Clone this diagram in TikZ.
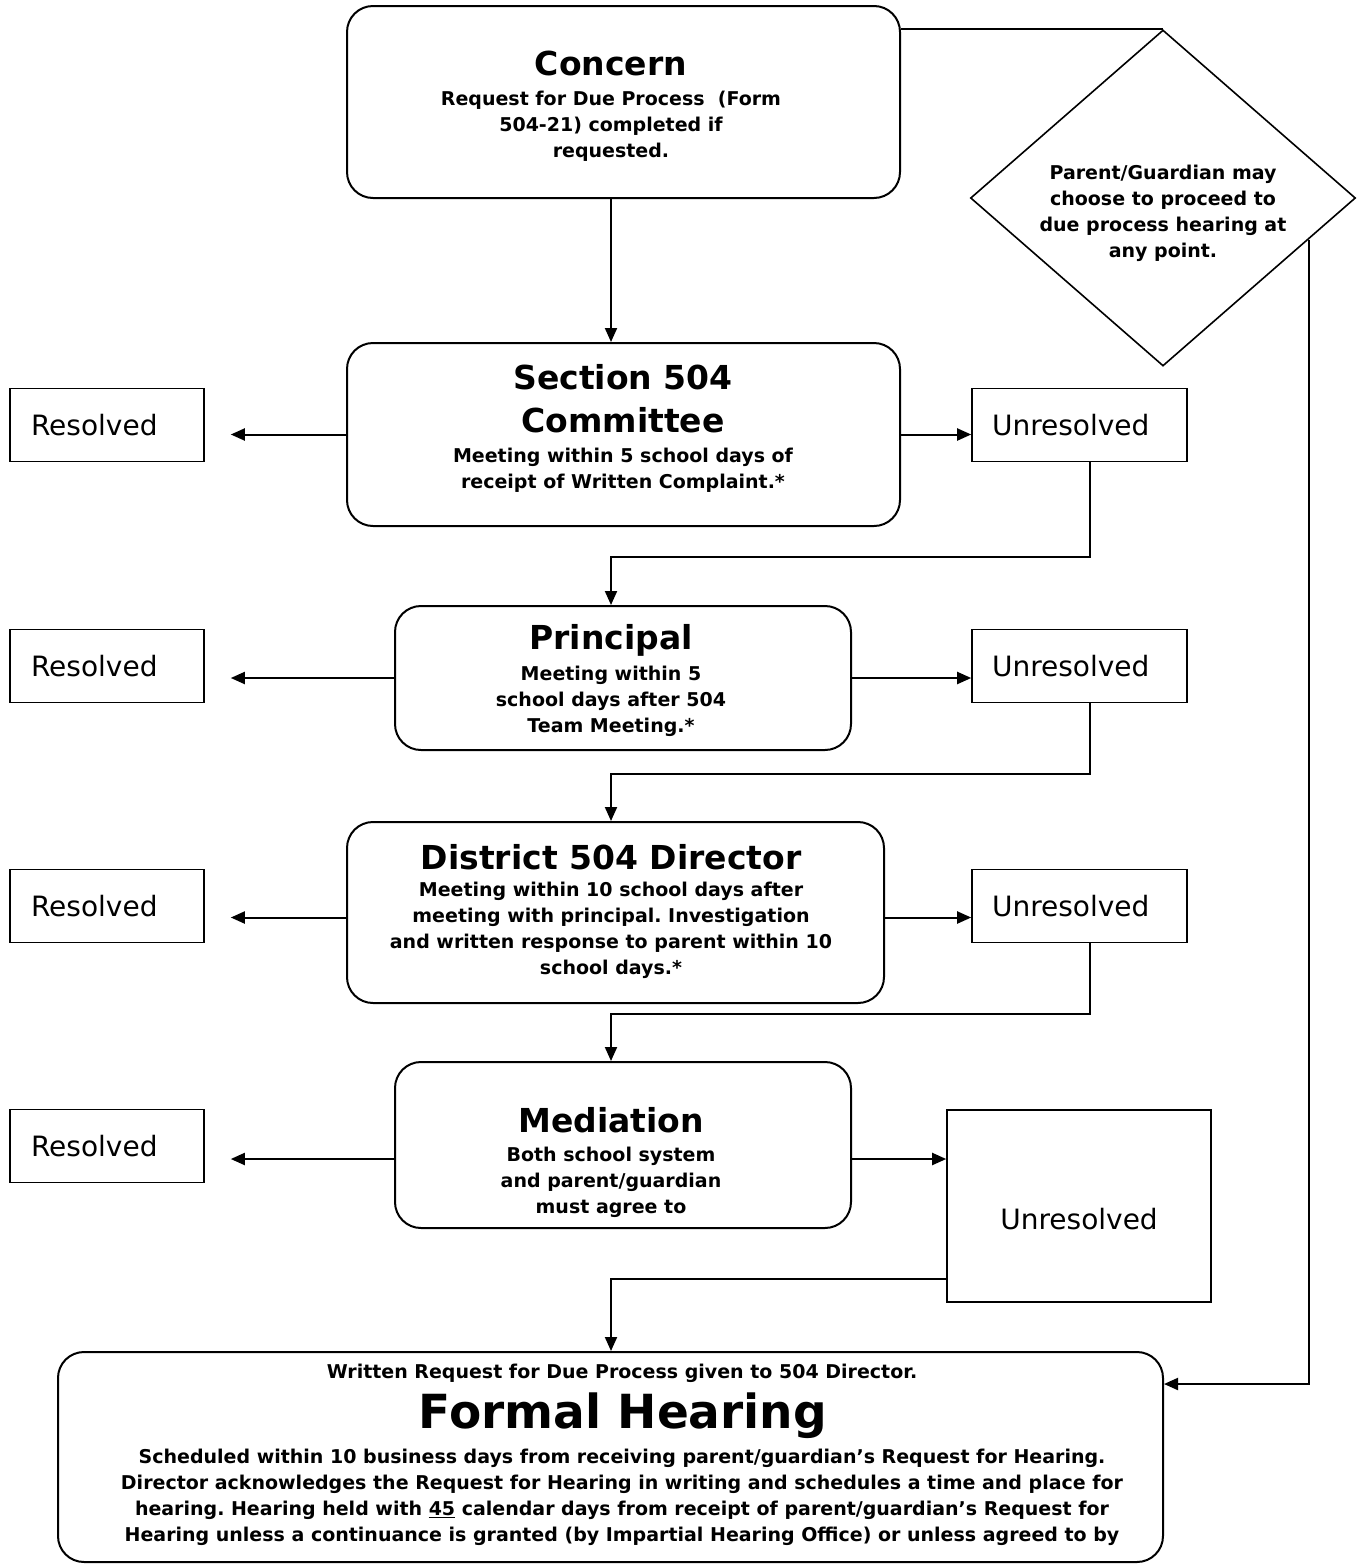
\documentclass[tikz,border=0pt]{standalone}
\usepackage{fontspec}
\setmainfont{DejaVu Sans}
\frenchspacing
\usetikzlibrary{shapes.geometric,arrows.meta}
\tikzset{
  stage/.style={draw, line width=2pt, rounded corners=26pt, inner sep=0pt},
  outcome/.style={draw, line width=1.6pt, inner ysep=0pt, minimum height=73pt,
    font=\fontsize{28}{32}\selectfont},
  head/.style={font=\fontsize{33}{43}\selectfont\bfseries, align=center},
  detail/.style={font=\fontsize{19}{26}\selectfont\bfseries, align=center},
  flow/.style={line width=2pt, -{Triangle[length=14pt,width=12pt]}},
}
\begin{document}
\begin{tikzpicture}[x=1pt,y=-1pt]
		\useasboundingbox (0,0) rectangle (1362,1564);
		\coordinate (spine) at (611,0);
		%Stages
		\node[stage, minimum width=553pt, minimum height=192pt] (concern) at (623.5,102) {};
		\node[head] (concernT) at (611,63) {Concern};
		\node[detail] (concernD) at (611,126) {Request for Due Process\ \ (Form\\504-21) completed if\\requested.};
		\node[stage, minimum width=553pt, minimum height=183pt] (sec) at (623.5,434.5) {};
		\node[head] (secT) at (623,398.5) {Section 504\\Committee};
		\node[detail] (secD) at (623,470) {Meeting within 5 school days of\\receipt of Written Complaint.*};
		\node[stage, minimum width=456pt, minimum height=144pt] (prin) at (623,678) {};
		\node[head] (prinT) at (611,640) {Principal};
		\node[detail] (prinD) at (611,701) {Meeting within 5\\school days after 504\\Team Meeting.*};
		\node[stage, minimum width=537pt, minimum height=181pt] (dist) at (615.5,912.5) {};
		\node[head] (distT) at (611,857) {District 504 Director};
		\node[detail] (distD) at (611,930) {Meeting within 10 school days after\\meeting with principal. Investigation\\and written response to parent within 10\\school days.*};
		\node[stage, minimum width=456pt, minimum height=166pt] (med) at (623,1145) {};
		\node[head] (medT) at (611,1120) {Mediation};
		\node[detail] (medD) at (611,1182) {Both school system\\and parent/guardian\\must agree to};
		\node[stage, minimum width=1105pt, minimum height=210pt] (formal) at (610.5,1457) {};
		\node[font=\fontsize{19}{26}\selectfont\bfseries] (formalW) at (622,1373) {Written Request for Due Process given to 504 Director.};
		\node[font=\fontsize{47}{50}\selectfont\bfseries] (formalT) at (623,1416) {Formal Hearing};
		\node[font=\fontsize{19}{26}\selectfont\bfseries, align=center] (formalD) at (622,1497) {Scheduled within 10 business days from receiving parent/guardian’s Request for Hearing.\\Director acknowledges the Request for Hearing in writing and schedules a time and place for\\hearing. Hearing held with \underline{45} calendar days from receipt of parent/guardian’s Request for\\Hearing unless a continuance is granted (by Impartial Hearing Office) or unless agreed to by};
		%Choice
		\node[diamond, draw, line width=1.6pt, minimum width=385pt, minimum height=336pt, inner sep=0pt] (dia) at (1163,198) {};
		\node[detail] (diaT) at (1163,213) {Parent/Guardian may\\choose to proceed to\\due process hearing at\\any point.};
		%Outcomes
		\foreach \y [count=\i] in {425,666,906,1146}
		\node[outcome, text width=152pt, inner xsep=21pt, align=left] (res\i) at (107,\y) {Resolved};
		\foreach \y [count=\i] in {425,666,906}
		\node[outcome, text width=175pt, inner xsep=20pt, align=left] (unr\i) at (1079.5,\y) {Unresolved};
		\node[outcome, minimum width=264pt, minimum height=192pt] (unr4) at (1079,1206) {\raisebox{-23pt}[0pt][0pt]{Unresolved}};
		%Connectors
		\draw[flow] (concern.south -| spine) -- (sec.north -| spine);
		\draw[flow, shorten >=26pt] (sec.west) -- (sec.west -| res1.east);
		\draw[flow] (sec.east) -- (sec.east -| unr1.west);
		\draw[flow] ([xshift=10pt]unr1.south) -- ++(0,95) -| (prin.north -| spine);
		\draw[flow, shorten >=26pt] (prin.west) -- (prin.west -| res2.east);
		\draw[flow] (prin.east) -- (prin.east -| unr2.west);
		\draw[flow] ([xshift=10pt]unr2.south) -- ++(0,71) -| (dist.north -| spine);
		\draw[flow, shorten >=26pt] ([yshift=-5pt]dist.west) -- ([yshift=-5pt]dist.west -| res3.east);
		\draw[flow] ([yshift=-5pt]dist.east) -- ([yshift=-5pt]dist.east -| unr3.west);
		\draw[flow] ([xshift=10pt]unr3.south) -- ++(0,71) -| (med.north -| spine);
		\draw[flow, shorten >=26pt] ([yshift=-14pt]med.west) -- ([yshift=-14pt]med.west -| res4.east);
		\draw[flow] ([yshift=-14pt]med.east) -- ([yshift=-14pt]med.east -| unr4.west);
		\draw[flow] ([yshift=24pt]unr4.south west) -| (formal.north -| spine);
		\draw[line width=2pt] (dia.north -| concern.east) -- (dia.north);
		\draw[flow] (dia.-16.7) |- ([yshift=73pt]formal.east);
\end{tikzpicture}
\end{document}
